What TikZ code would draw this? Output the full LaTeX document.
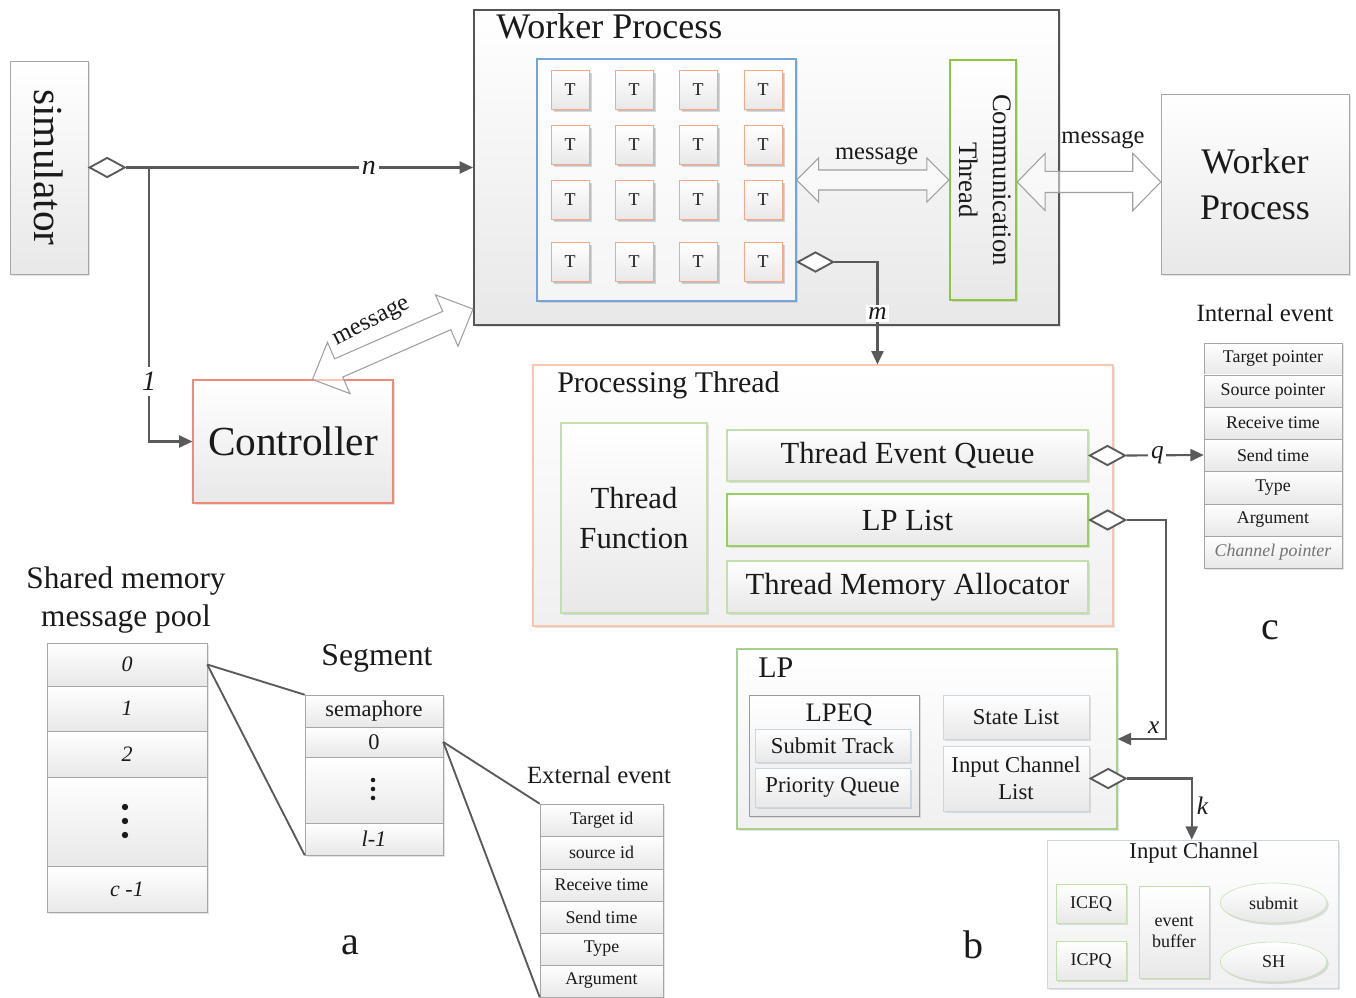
\documentclass[tikz,border=0pt]{standalone}
\usepackage{fontspec}
\setmainfont{Liberation Serif}
\usetikzlibrary{calc,shapes.geometric,arrows.meta,shadows}
\definecolor{cgray}{HTML}{5A5A5A}
\definecolor{gbord}{HTML}{A6A6A6}
\definecolor{wpbord}{HTML}{555555}
\definecolor{bluebord}{HTML}{74A4D8}
\definecolor{tbord}{HTML}{F4A884}
\definecolor{ctrlbord}{HTML}{EE8A76}
\definecolor{ptbord}{HTML}{F7C6AC}
\definecolor{ctgreen}{HTML}{8DC63F}
\definecolor{lgreen}{HTML}{C2E0AC}
\definecolor{mgreen}{HTML}{98D060}
\definecolor{lpgreen}{HTML}{A9D18E}
\definecolor{bgray}{HTML}{C8D8DE}
\definecolor{lpeqgray}{HTML}{9A9A9A}
\definecolor{fatgray}{HTML}{A0A0A0}
\definecolor{txt}{HTML}{1A1A1A}
\newcommand\bx[7]{\node[#2, minimum width={(#5-#3)*0.75pt}, minimum height={(#6-#4)*0.75pt}] (#1) at ({(#3+#5)/2},{(#4+#6)/2}) {#7};}
\newcommand\fatarrow[5]{%
\draw[fat] (#1) -- ($(#1)!#3!(#2)!#4!90:(#2)$) -- ($(#1)!#3!(#2)!#5!90:(#2)$)
 -- ($(#2)!#3!(#1)!#5!-90:(#1)$) -- ($(#2)!#3!(#1)!#4!-90:(#1)$) -- (#2)
 -- ($(#2)!#3!(#1)!#4!90:(#1)$) -- ($(#2)!#3!(#1)!#5!90:(#1)$)
 -- ($(#1)!#3!(#2)!#5!-90:(#2)$) -- ($(#1)!#3!(#2)!#4!-90:(#2)$) -- cycle;}
\newcommand\fsz[2]{\fontsize{#1}{#2}\selectfont}
\begin{document}
\begin{tikzpicture}[x=0.75pt,y=-0.75pt,
 bxs/.style={draw, inner sep=0pt, top color=white, bottom color=black!9, align=center, text=txt,
   drop shadow={shadow xshift=1.5pt,shadow yshift=-1.5pt,opacity=0.22}},
 rowbox/.style={bxs, draw=gbord, font=\fsz{13.4}{16}},
 tbox/.style={bxs, draw=tbord, line width=0.7pt, minimum width=28.5pt, minimum height=29pt, font=\fsz{13.5}{16},
   drop shadow={shadow xshift=2pt,shadow yshift=-2pt,opacity=0.3}},
 conn/.style={draw=cgray, line width=1.6pt},
 arr/.style={-{Triangle[length=10pt,width=9pt]}},
 dia/.style={diamond, draw=cgray, line width=1.4pt, fill=white, aspect=1.8, minimum width=27pt, minimum height=15pt, inner sep=0pt, anchor=west},
 fat/.style={draw=fatgray, line width=0.8pt, fill=white, fill opacity=0.5, line join=miter},
 ilab/.style={font=\fsz{21}{25}\itshape, text=txt, inner sep=2pt},
 slab/.style={font=\fsz{19}{23}\itshape, text=txt, inner sep=2pt},
 msg/.style={font=\fsz{18.4}{22}, text=txt, inner sep=0pt},
 ttl/.style={text=txt, inner sep=0pt},
 line/.style={draw=cgray, line width=1.4pt},
 dot/.style={fill=txt, draw=none}
]
\useasboundingbox (0,0) rectangle (1356,998);

% ---------- simulator ----------
\bx{sim}{bxs, draw=gbord}{10}{61}{88}{274}{\rotatebox{-90}{\fsz{31}{36}simulator}}

% ---------- worker process ----------
\bx{wp}{bxs, draw=wpbord, line width=1.5pt}{474}{10}{1059}{325}{}
\node[ttl, anchor=west, font=\fsz{27}{32}] (wpt) at (496,26) {Worker Process};
\bx{grid}{bxs, draw=bluebord, line width=0.8pt, bottom color=black!4}{537}{59}{796}{301}{}
\foreach \c/\xx in {1/570,2/634,3/698,4/763}
  \foreach \r/\yy in {1/90,2/145,3/200,4/262}
    \node[tbox] (t\r\c) at (\xx,\yy) {T};
\bx{ct}{bxs, draw=ctgreen, line width=1.3pt}{950}{60}{1016}{300}{\rotatebox{-90}{\fsz{20}{25}\begin{tabular}{@{}c@{}}Communication\\Thread\end{tabular}}}

% right worker process
\bx{wp2}{bxs, draw=gbord, font=\fsz{27}{34.5}}{1161}{94}{1349}{274}{Worker\\Process}

% controller
\bx{ctrl}{bxs, draw=ctrlbord, line width=0.8pt, font=\fsz{31}{36}}{193}{380}{393}{503}{Controller}

% fat arrows
\coordinate (ga) at (grid.east);
\coordinate (gb) at (ct.west);
\fatarrow{ga}{gb}{16.5pt}{16.5pt}{7.5pt}
\path (ga) -- (gb) node[msg, midway, xshift=3pt, yshift=18pt] {message};
\coordinate (ra) at ($(ct.east)+(0,2)$);
\coordinate (rb) at (ra -| wp2.west);
\fatarrow{ra}{rb}{21pt}{21.5pt}{7.9pt}
\node[msg] at (1103,140) {message};
\coordinate (ca) at ($(ctrl.north west)+(120,0)$);
\coordinate (cb) at ($(wp.south west)+(0,-17)$);
\fatarrow{ca}{cb}{21.5pt}{21pt}{7.5pt}
\node[msg, rotate=27] at (372,323) {message};

% simulator connectors
\node[dia] (dsim) at (sim.east) {};
\draw[conn, arr] (dsim.east) -- (dsim.east -| wp.west) node[ilab, pos=0.7, fill=white] {n};
\coordinate (br) at ($(dsim.east)+(23,0)$);
\draw[conn, arr] (br) |- (ctrl.west) node[ilab, pos=0.39, fill=white, inner sep=4pt] {1};

% ---------- processing thread ----------
\bx{pt}{bxs, draw=ptbord, line width=0.8pt, bottom color=black!6}{533}{365}{1113}{626}{}
\node[ttl, anchor=west, font=\fsz{22.5}{27}] (ptt) at (557,385) {Processing Thread};
\bx{tf}{bxs, draw=lgreen, line width=0.8pt, font=\fsz{23}{30}}{561}{423}{707}{613}{Thread\\Function}
\bx{teq}{bxs, draw=lgreen, line width=0.8pt, font=\fsz{23}{28}}{727}{430}{1088}{481}{Thread Event Queue}
\bx{lpl}{bxs, draw=mgreen, line width=1.1pt, font=\fsz{23}{28}}{727}{494}{1088}{546}{LP List}
\bx{tma}{bxs, draw=lgreen, line width=0.8pt, font=\fsz{23}{28}}{727}{561}{1088}{613}{Thread Memory Allocator}

% m connector
\node[dia] (dm) at (grid.east |- t41) {};
\coordinate (ptin) at ($(pt.north west)+(345,0)$);
\draw[conn, arr] (dm.east) -| (ptin) node[slab, pos=0.75, fill=white] {m};

% ---------- internal event ----------
\node[ttl, font=\fsz{18.6}{22}] (iet) at (1265,313) {Internal event};
\bx{ie1}{rowbox}{1204}{343}{1342}{375}{Target pointer}
\bx{ie2}{rowbox}{1204}{375}{1342}{407}{Source pointer}
\bx{ie3}{rowbox}{1204}{407}{1342}{439}{Receive time}
\bx{ie4}{rowbox}{1204}{439}{1342}{471}{Send time}
\bx{ie5}{rowbox}{1204}{471}{1342}{504}{Type}
\bx{ie6}{rowbox}{1204}{504}{1342}{536}{Argument}
\bx{ie7}{rowbox, text=black!55}{1204}{536}{1342}{568}{\itshape Channel pointer}
\node[ttl, font=\fsz{30}{36}] (lc) at (1270,630) {c};

% q connector
\node[dia] (dq) at (teq.east) {};
\draw[conn, arr] (dq.east) -- (ie4.west) node[slab, pos=0.4, fill=white] {q};

% ---------- LP ----------
\bx{lp}{bxs, draw=lpgreen, line width=1pt, bottom color=black!6}{737}{649}{1117}{829}{}
\node[ttl, anchor=west, font=\fsz{22.5}{27}] (lpt) at (758,668) {LP};
\bx{lpeq}{bxs, draw=lpeqgray}{749}{695}{919}{816}{}
\node[ttl, font=\fsz{20}{24}] (lpeqt) at (839,715) {LPEQ};
\bx{st}{bxs, draw=bgray, font=\fsz{17}{20}}{755}{729}{910}{762}{Submit Track}
\bx{pq}{bxs, draw=bgray, font=\fsz{17}{20}}{755}{768}{910}{807}{Priority Queue}
\bx{sl}{bxs, draw=bgray, font=\fsz{17}{20}}{943}{695}{1089}{739}{State List}
\bx{icl}{bxs, draw=bgray, font=\fsz{17}{20}}{943}{746}{1089}{811}{Input Channel\\List}

% x connector
\node[dia] (dx) at (lpl.east) {};
\coordinate (xc) at ($(lp.east)+(48,0)$);
\draw[conn, arr] (dx.east) -| (xc) -- (lp.east) node[slab, pos=0.25, above=1pt] {x};

% ---------- input channel ----------
\bx{ic}{bxs, draw=bgray, bottom color=black!6}{1047}{840}{1338}{988}{}
\node[ttl, font=\fsz{17}{20}] (ict) at (1194,853) {Input Channel};
\bx{iceq}{bxs, draw=lgreen, font=\fsz{13.5}{16}}{1056}{884}{1126}{923}{ICEQ}
\bx{icpq}{bxs, draw=lgreen, font=\fsz{13.5}{16}}{1056}{941}{1126}{980}{ICPQ}
\bx{eb}{bxs, draw=lgreen, font=\fsz{13.5}{16}}{1139}{886}{1209}{978}{event\\buffer}
\node[bxs, ellipse, draw=lgreen, minimum width=80pt, minimum height=30pt, font=\fsz{13.5}{16}] (sub) at (1273.5,903) {submit};
\node[bxs, ellipse, draw=lgreen, minimum width=80pt, minimum height=30pt, font=\fsz{13.5}{16}] (sh) at (1273.5,962) {SH};

% k connector
\node[dia] (dk) at (icl.east) {};
\coordinate (kin) at ($(ic.north west)+(145,0)$);
\draw[conn, arr] (dk.east) -| (kin) node[slab, pos=0.72, right=1pt] {k};

\node[ttl, font=\fsz{30}{36}] (lb) at (973,945) {b};

% ---------- shared memory pool ----------
\node[ttl, align=center, font=\fsz{23.5}{28.5}] (poolt) at (126,600) {Shared memory\\message pool};
\bx{p0}{bxs, draw=gbord, font=\fsz{16.5}{20}\itshape}{47}{643}{207}{686}{0}
\bx{p1}{bxs, draw=gbord, font=\fsz{16.5}{20}\itshape}{47}{686}{207}{731}{1}
\bx{p2}{bxs, draw=gbord, font=\fsz{16.5}{20}\itshape}{47}{731}{207}{777}{2}
\bx{pd}{bxs, draw=gbord}{47}{777}{207}{866}{}
\foreach \yy in {807,821,835} \fill[dot] (125,\yy) circle (2.4pt);
\bx{pc}{bxs, draw=gbord, font=\fsz{16.5}{20}\itshape}{47}{866}{207}{912}{c -1}

\node[ttl, font=\fsz{23.8}{28}] (segt) at (377,658) {Segment};
\bx{s0}{bxs, draw=gbord, font=\fsz{16.8}{20}}{305}{695}{443}{727}{semaphore}
\bx{s1}{bxs, draw=gbord, font=\fsz{16.8}{20}}{305}{727}{443}{757}{0}
\bx{sd}{bxs, draw=gbord}{305}{757}{443}{823}{}
\foreach \yy in {780,789,798} \fill[dot] (373,\yy) circle (1.7pt);
\bx{sl1}{bxs, draw=gbord, font=\fsz{16.8}{20}\itshape}{305}{823}{443}{855}{l-1}

\node[ttl, font=\fsz{18.6}{22}] (eet) at (599,775) {External event};
\bx{ee1}{rowbox}{540}{804}{663}{836}{Target id}
\bx{ee2}{rowbox}{540}{836}{663}{869}{source id}
\bx{ee3}{rowbox}{540}{869}{663}{901}{Receive time}
\bx{ee4}{rowbox}{540}{901}{663}{933}{Send time}
\bx{ee5}{rowbox}{540}{933}{663}{965}{Type}
\bx{ee6}{rowbox}{540}{965}{663}{997}{Argument}

\draw[line] (p0.east) -- (s0.north west);
\draw[line] (p0.east) -- (sl1.south west);
\draw[line] (s1.east) -- (ee1.north west);
\draw[line] (s1.east) -- (ee6.south west);

\node[ttl, font=\fsz{30}{36}] (la) at (350,945) {a};
\end{tikzpicture}
\end{document}
